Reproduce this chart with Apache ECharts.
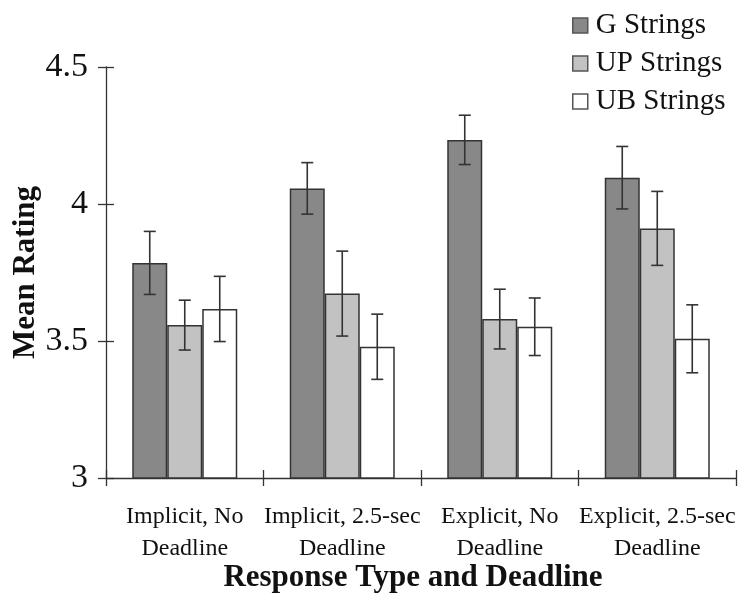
<!DOCTYPE html>
<html>
<head>
<meta charset="utf-8">
<script src="https://cdn.jsdelivr.net/npm/echarts@6/dist/echarts.min.js"></script>
<style>html,body{margin:0;padding:0;background:#fff}#c{width:741px;height:602px}</style>
</head>
<body>
<div id="c"></div>
<script>
const categories = ['Implicit, No\nDeadline', 'Implicit, 2.5-sec\nDeadline', 'Explicit, No\nDeadline', 'Explicit, 2.5-sec\nDeadline'];
const seriesNames = ['G Strings', 'UP Strings', 'UB Strings'];
const gValues = [3.785, 4.057, 4.234, 4.096];
const upValues = [3.558, 3.673, 3.580, 3.911];
const ubValues = [3.617, 3.479, 3.552, 3.508];
const gErr = [0.115, 0.094, 0.090, 0.114];
const upErr = [0.091, 0.155, 0.109, 0.135];
const ubErr = [0.119, 0.119, 0.105, 0.124];
const yTicks = [3, 3.5, 4, 4.5];

const FONT = '"Liberation Serif", "Times New Roman", serif';
const colors = ['#888888', '#c2c2c2', '#ffffff'];
const values = [gValues, upValues, ubValues];
const errs = [gErr, upErr, ubErr];
const BAR_W = 35;

const chart = echarts.init(document.getElementById('c'));

const barSeries = values.map((v, i) => ({
  name: seriesNames[i],
  type: 'bar',
  data: v,
  barWidth: BAR_W,
  barGap: '0%',
  itemStyle: { color: colors[i], borderColor: '#333', borderWidth: 1.5 },
  emphasis: { disabled: true },
  z: 2
}));

const errSeries = values.map((v, i) => ({
  type: 'custom',
  name: seriesNames[i] + ' err',
  data: v.map((val, j) => [j, val - errs[i][j], val + errs[i][j]]),
  z: 5,
  renderItem: function (params, api) {
    const c = api.value(0);
    const lo = api.coord([c, api.value(1)]);
    const hi = api.coord([c, api.value(2)]);
    const x = lo[0] + (i - 1) * BAR_W;
    const cap = 6;
    const st = { stroke: '#333', lineWidth: 1.6 };
    return {
      type: 'group',
      children: [
        { type: 'line', shape: { x1: x, y1: lo[1], x2: x, y2: hi[1] }, style: st },
        { type: 'line', shape: { x1: x - cap, y1: lo[1], x2: x + cap, y2: lo[1] }, style: st },
        { type: 'line', shape: { x1: x - cap, y1: hi[1], x2: x + cap, y2: hi[1] }, style: st }
      ]
    };
  }
}));

const option = {
  animation: false,
  backgroundColor: '#fff',
  textStyle: { fontFamily: FONT, color: '#111' },
  legend: {
    orient: 'vertical',
    left: 567,
    top: 6,
    itemWidth: 15,
    itemHeight: 15,
    itemGap: 9,
    icon: 'rect',
    textStyle: { fontFamily: FONT, fontSize: 29, color: '#111', padding: [0, 0, 0, 3] },
    data: seriesNames.map((n, i) => ({ name: n, itemStyle: { color: colors[i], borderColor: '#555', borderWidth: 1.5 } }))
  },
  grid: { left: 106, right: 5, top: 67, bottom: 124, containLabel: false, outerBoundsMode: 'none' },
  xAxis: [{
    type: 'category',
    data: categories,
    name: 'Response Type and Deadline',
    nameLocation: 'middle',
    nameGap: 84,
    nameMoveOverlap: false,
    nameTextStyle: { fontFamily: FONT, fontSize: 31, fontWeight: 'bold', color: '#111', padding: [0, 16, 0, 0] },
    axisLine: { show: true, lineStyle: { color: '#333', width: 1.3 } },
    axisTick: { show: true, length: 8, lineStyle: { color: '#333', width: 1.3 } },
    axisLabel: { fontFamily: FONT, fontSize: 24, color: '#111', lineHeight: 32, margin: 23, interval: 0 },
    splitLine: { show: false }
  }, {
    type: 'category',
    data: categories,
    position: 'bottom',
    axisLine: { show: false },
    axisTick: { show: true, inside: true, length: 8, lineStyle: { color: '#333', width: 1.3 } },
    axisLabel: { show: false },
    splitLine: { show: false }
  }],
  yAxis: [{
    type: 'value',
    min: yTicks[0],
    max: yTicks[yTicks.length - 1],
    interval: 0.5,
    name: 'Mean Rating',
    nameLocation: 'middle',
    nameGap: 65,
    nameMoveOverlap: false,
    nameRotate: 90,
    nameTextStyle: { fontFamily: FONT, fontSize: 31, fontWeight: 'bold', color: '#111' },
    axisLine: { show: true, lineStyle: { color: '#333', width: 1.3 } },
    axisTick: { show: true, length: 8, lineStyle: { color: '#333', width: 1.3 } },
    axisLabel: { fontFamily: FONT, fontSize: 34, color: '#111', margin: 18 },
    splitLine: { show: false }
  }, {
    type: 'value',
    min: yTicks[0],
    max: yTicks[yTicks.length - 1],
    interval: 0.5,
    position: 'left',
    axisLine: { show: false },
    axisTick: { show: true, inside: true, length: 8, lineStyle: { color: '#333', width: 1.3 } },
    axisLabel: { show: false },
    splitLine: { show: false }
  }],
  series: barSeries.concat(errSeries)
};
chart.setOption(option);
</script>
</body>
</html>
